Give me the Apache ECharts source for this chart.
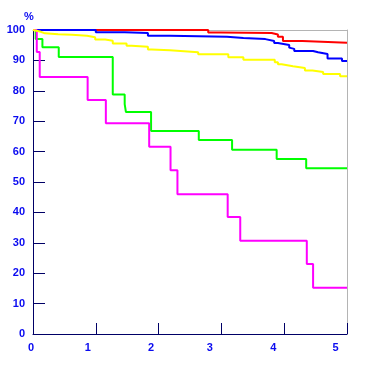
<!DOCTYPE html>
<html>
<head>
<meta charset="utf-8">
<script src="https://cdn.jsdelivr.net/npm/echarts@6/dist/echarts.min.js"></script>
<style>
html,body{margin:0;padding:0;background:#fff;}
#c{width:365px;height:367px;}
</style>
</head>
<body>
<div id="c"></div>
<script>
// Survival curves (time in years, survival %)
const red = [[0,100],[2.79,99.2],[2.99,99.0],[3.80,98.5],[3.90,97.8],[3.98,96.4],[4.29,95.8],[5,95.8]];
const blue = [[0,100],[1.00,99.3],[1.46,99.0],[1.83,98.1],[2.18,97.8],[3.09,97.4],[3.35,97.0],[3.70,96.4],[3.84,95.7],[3.90,95.1],[4.08,94.2],[4.11,93.8],[4.16,93.1],[4.46,92.7],[4.54,92.1],[4.69,90.6],[4.92,89.8],[5,89.8]];
const green = [[0,100],[0.043,97.0],[0.15,94.3],[0.41,91.1],[1.27,78.8],[1.46,75.6],[1.48,73.0],[1.88,66.8],[2.64,63.8],[3.17,60.6],[3.88,57.6],[4.35,54.5],[5,54.5]];
const magenta = [[0,100],[0.06,92.8],[0.107,84.5],[0.87,77.0],[1.16,69.3],[1.85,61.6],[2.19,53.9],[2.30,46.0],[3.10,38.5],[3.30,30.7],[4.36,23.0],[4.46,15.2],[5,15.2]];
const yellow = [[0,100],[0.03,99.5],[0.11,98.9],[0.19,98.6],[0.40,98.4],[0.62,98.1],[0.86,97.6],[0.99,96.9],[1.15,96.5],[1.27,95.6],[1.49,94.8],[1.57,94.5],[1.83,93.6],[1.89,93.3],[2.18,92.7],[2.63,92.0],[3.11,91.0],[3.35,90.2],[3.85,89.4],[3.90,88.7],[3.96,88.1],[4.14,87.5],[4.33,86.7],[4.45,86.2],[4.62,85.5],[4.89,84.8],[5,84.8]];
const xTicks = [0,1,2,3,4,5];
const yName = '%';

const labelColor = '#0a0af0';
const axisColor = '#000066';
const frameColor = '#b4b4b4';
const font = 'Liberation Sans, Arial, sans-serif';
const labelBase = {color: labelColor, fontWeight: 'bold', fontSize: 11, fontFamily: font};
// horizontal shift of x labels (padding on right shifts text left)
const xPad = [4, 16, 15, 23, 22, 23];
const rich = {};
xTicks.forEach((t, i) => { rich['l' + i] = Object.assign({padding: [0, xPad[i], 0, 0]}, labelBase); });

function mk(data, color) {
  return {type: 'line', data: data, step: 'end', showSymbol: false,
    lineStyle: {color: color, width: 2}, itemStyle: {color: color},
    xAxisIndex: 0, yAxisIndex: 0, z: 5};
}
const frameAxis = {axisLine: {show: true, onZero: false, lineStyle: {color: frameColor, width: 1}},
  axisTick: {show: false}, axisLabel: {show: false}, splitLine: {show: false}};
const hiddenParts = {axisLine: {show: false}, axisTick: {show: false}, axisLabel: {show: false}, splitLine: {show: false}};
// thin grids whose split lines act as the inward tick marks
const tickLines = {axisLine: {show: false}, axisTick: {show: false}, axisLabel: {show: false},
  splitLine: {show: true, lineStyle: {color: axisColor, width: 1}}};

const chart = echarts.init(document.getElementById('c'));
chart.setOption({
  animation: false,
  grid: [
    {left: 33, right: 18, top: 30, bottom: 33},
    {left: 33, width: 12, top: 30, bottom: 33},
    {left: 33, right: 18, height: 11, bottom: 33}
  ],
  xAxis: [{
    type: 'value', min: 0, max: 5, interval: 1, position: 'bottom', gridIndex: 0,
    axisLine: {show: true, onZero: false, lineStyle: {color: axisColor}},
    axisTick: {show: true, inside: true, length: 11, lineStyle: {color: axisColor, width: 1}},
    splitLine: {show: false},
    axisLabel: {
      margin: 8,
      formatter: function (v) { const i = xTicks.indexOf(Math.round(v)); return '{l' + i + '|' + xTicks[i] + '}'; },
      rich: rich
    }
  },
  Object.assign({type: 'value', min: 0, max: 5, position: 'top', gridIndex: 0}, frameAxis),
  Object.assign({type: 'value', min: 0, max: 1, gridIndex: 1}, hiddenParts),
  Object.assign({type: 'value', min: 0, max: 5, interval: 1, gridIndex: 2}, tickLines)
  ],
  yAxis: [{
    type: 'value', min: 0, max: 100, interval: 10, position: 'left', gridIndex: 0,
    name: yName, nameLocation: 'end', nameGap: 8,
    nameTextStyle: Object.assign({padding: [0, 8, 0, 0]}, labelBase),
    axisLine: {show: true, onZero: false, lineStyle: {color: axisColor, width: 1}},
    axisTick: {show: true, inside: true, length: 12, lineStyle: {color: axisColor, width: 1}},
    splitLine: {show: false},
    axisLabel: Object.assign({margin: 8}, labelBase)
  },
  Object.assign({type: 'value', min: 0, max: 100, position: 'right', gridIndex: 0}, frameAxis),
  Object.assign({type: 'value', min: 0, max: 100, interval: 10, gridIndex: 1}, tickLines),
  Object.assign({type: 'value', min: 0, max: 1, gridIndex: 2}, hiddenParts)
  ],
  series: [
    mk(red, '#ff0000'),
    mk(blue, '#0000ff'),
    mk(green, '#00ff00'),
    mk(magenta, '#ff00ff'),
    mk(yellow, '#ffff00')
  ]
});
</script>
</body>
</html>
